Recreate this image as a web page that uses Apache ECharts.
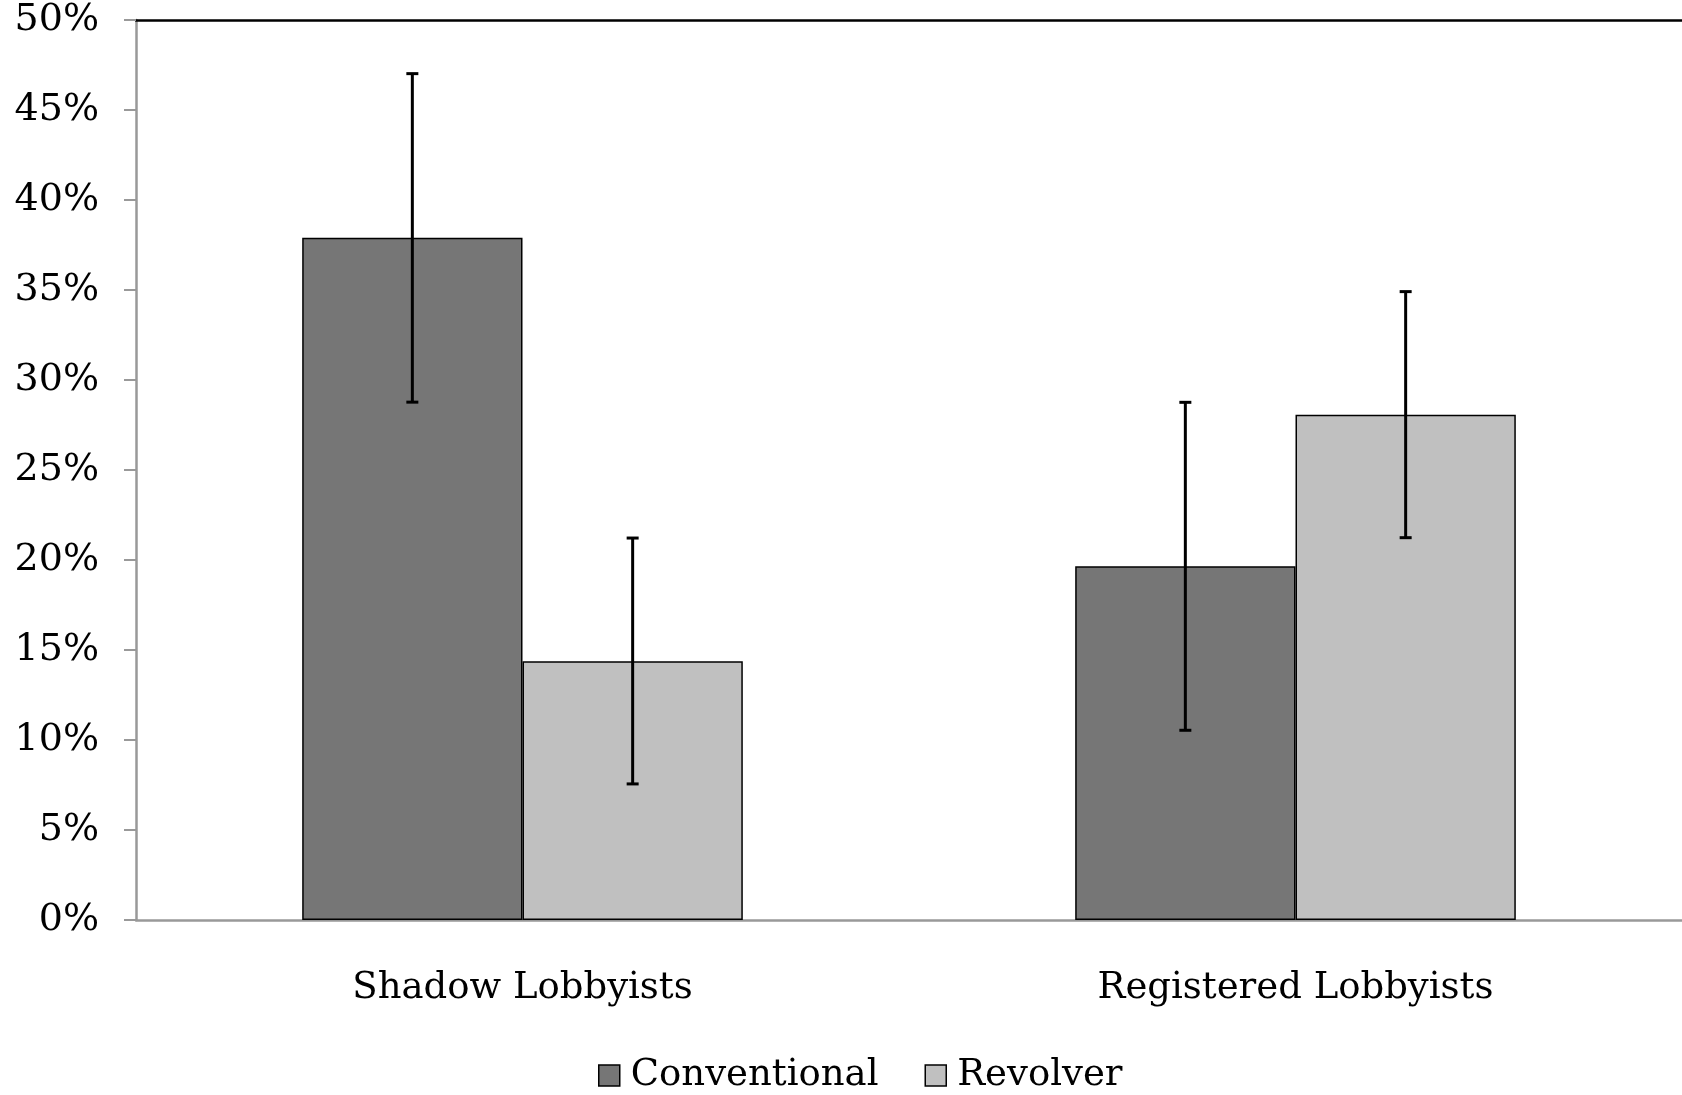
<!DOCTYPE html>
<html>
<head>
<meta charset="utf-8">
<script src="https://cdn.jsdelivr.net/npm/echarts@6/dist/echarts.min.js"></script>
<style>html,body{margin:0;padding:0;background:#fff}#c{width:1682px;height:1095px}</style>
</head>
<body>
<div id="c"></div>
<script>
const categories = ['Shadow Lobbyists', 'Registered Lobbyists'];
const seriesNames = ['Conventional', 'Revolver'];
const conventional = [37.9, 19.65];
const revolver = [14.38, 28.07];
const conventionalLow = [28.77, 10.54];
const conventionalHigh = [47.02, 28.76];
const revolverLow = [7.56, 21.24];
const revolverHigh = [21.22, 34.91];
const yTicks = [0, 5, 10, 15, 20, 25, 30, 35, 40, 45, 50];

const FONT = 'DejaVu Serif';
const GAP = 0.43;

function errSeries(lows, highs, side) {
  return {
    type: 'custom',
    silent: true,
    z: 10,
    data: lows.map((l, i) => [i, l, highs[i]]),
    renderItem: function (params, api) {
      const cat = api.value(0);
      const lo = api.coord([cat, api.value(1)]);
      const hi = api.coord([cat, api.value(2)]);
      const catW = api.size([1, 0])[0];
      const bw = catW * (1 - GAP) / 2;
      const x = lo[0] + side * bw / 2;
      const cap = 6;
      const st = { stroke: '#000', lineWidth: 3 };
      return {
        type: 'group',
        children: [
          { type: 'line', shape: { x1: x, y1: lo[1], x2: x, y2: hi[1] }, style: st },
          { type: 'line', shape: { x1: x - cap, y1: lo[1], x2: x + cap, y2: lo[1] }, style: st },
          { type: 'line', shape: { x1: x - cap, y1: hi[1], x2: x + cap, y2: hi[1] }, style: st }
        ]
      };
    }
  };
}

const chart = echarts.init(document.getElementById('c'));
chart.setOption({
  animation: false,
  backgroundColor: '#fff',
  textStyle: { fontFamily: FONT },
  grid: { left: 136, right: 0, top: 20, bottom: 175 },
  legend: {
    data: seriesNames,
    top: 1052,
    left: 593,
    itemWidth: 21,
    itemHeight: 21,
    itemGap: 46,
    icon: 'rect',
    textStyle: { fontFamily: FONT, fontSize: 37, color: '#000', padding: [0, 0, 0, 6] },
    itemStyle: { borderColor: '#000', borderWidth: 1.5 }
  },
  xAxis: [{
    type: 'category',
    data: categories,
    axisLine: { lineStyle: { color: '#999', width: 2.5 } },
    axisTick: { show: false },
    axisLabel: { fontFamily: FONT, fontSize: 37, color: '#000', margin: 50 }
  }, {
    type: 'category',
    position: 'top',
    data: categories,
    axisLine: { show: true, lineStyle: { color: '#000', width: 2.5 } },
    axisTick: { show: false },
    axisLabel: { show: false }
  }],
  yAxis: {
    type: 'value',
    min: 0, max: 50, interval: 5,
    axisLine: { show: true, lineStyle: { color: '#999', width: 2.5 } },
    axisTick: { show: true, inside: false, length: 12, lineStyle: { color: '#999', width: 2 } },
    splitLine: { show: false },
    axisLabel: {
      fontFamily: FONT, fontSize: 38, color: '#000', margin: 37,
      formatter: v => (yTicks.indexOf(v) >= 0 ? v + '%' : '')
    }
  },
  series: [{
    name: seriesNames[0],
    type: 'bar',
    data: conventional,
    barGap: '0%',
    barCategoryGap: (GAP * 100) + '%',
    itemStyle: { color: '#767676', borderColor: '#000', borderWidth: 1.5 }
  }, {
    name: seriesNames[1],
    type: 'bar',
    data: revolver,
    barGap: '0%',
    barCategoryGap: (GAP * 100) + '%',
    itemStyle: { color: '#c0c0c0', borderColor: '#000', borderWidth: 1.5 }
  },
  errSeries(conventionalLow, conventionalHigh, -1),
  errSeries(revolverLow, revolverHigh, 1)
  ]
});
</script>
</body>
</html>
